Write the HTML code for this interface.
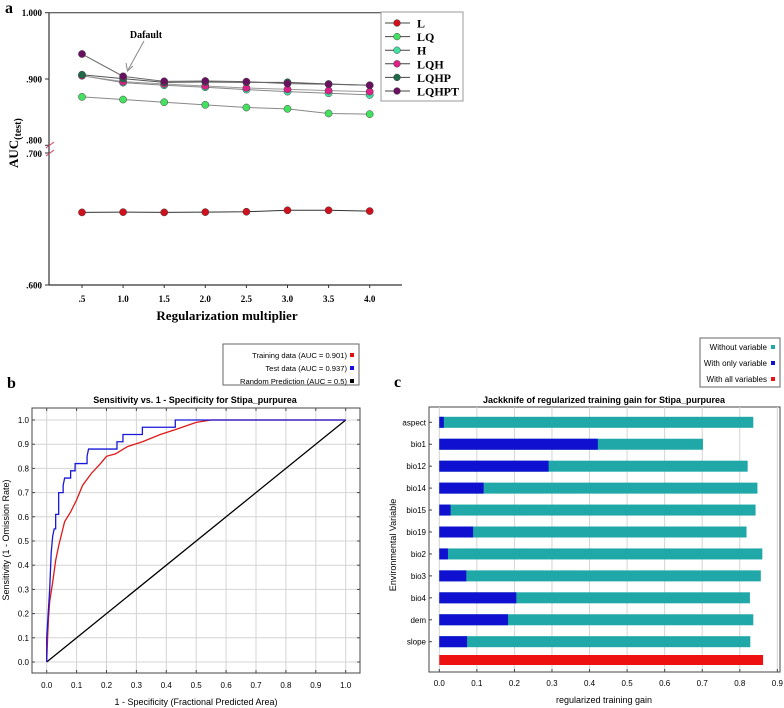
<!DOCTYPE html>
<html><head><meta charset="utf-8"><style>
body{margin:0;background:#fff}
svg{display:block}
.ser{font-family:"Liberation Serif",serif;font-weight:bold}
.san{font-family:"Liberation Sans",sans-serif}
</style></head><body>
<svg id="fig" width="784" height="708" viewBox="0 0 784 708" xmlns="http://www.w3.org/2000/svg">
<g id="pa"></g>
<g id="pb"></g>
<g id="pc"></g>
</svg>
<script>
// ---------- Panel a data ----------
const regMult = [0.5,1.0,1.5,2.0,2.5,3.0,3.5,4.0];
const aL     = [0.655,0.6552,0.655,0.6552,0.6555,0.6566,0.6566,0.656];
const aLQ    = [0.873,0.869,0.865,0.861,0.857,0.855,0.848,0.847];
const aH     = [0.905,0.8945,0.8905,0.8875,0.884,0.881,0.8785,0.876];
const aLQH   = [0.905,0.896,0.8925,0.8895,0.8865,0.8845,0.8825,0.881];
const aLQHP  = [0.9065,0.9005,0.895,0.8955,0.895,0.895,0.8925,0.8905];
const aLQHPT = [0.9377,0.904,0.8965,0.897,0.896,0.893,0.892,0.8905];
const aSeriesNames = ["L","LQ","H","LQH","LQHP","LQHPT"];
const aTickLabels = [".600",".700",".800",".900","1.000"];
// ---------- Panel b data ----------
const rocTestX = [0,0,0.005,0.01,0.015,0.02,0.025,0.03,0.03,0.04,0.04,0.055,0.055,0.06,0.08,0.08,0.095,0.095,0.135,0.135,0.14,0.235,0.235,0.255,0.255,0.32,0.32,0.43,0.43,1];
const rocTestY = [0,0.1,0.2,0.3,0.45,0.52,0.55,0.55,0.61,0.61,0.7,0.7,0.73,0.76,0.76,0.79,0.79,0.82,0.82,0.85,0.88,0.88,0.91,0.91,0.94,0.94,0.97,0.97,1,1];
const rocTrainX = [0,0.003,0.006,0.01,0.02,0.03,0.04,0.05,0.06,0.08,0.1,0.12,0.15,0.18,0.2,0.23,0.27,0.32,0.38,0.43,0.5,0.55,1];
const rocTrainY = [0,0.1,0.18,0.25,0.33,0.42,0.48,0.53,0.58,0.62,0.67,0.73,0.78,0.82,0.85,0.86,0.89,0.91,0.94,0.96,0.99,1,1];
const rocTicks = [0,0.1,0.2,0.3,0.4,0.5,0.6,0.7,0.8,0.9,1.0];
// ---------- Panel c data ----------
const jkVars = ["aspect","bio1","bio12","bio14","bio15","bio19","bio2","bio3","bio4","dem","slope"];
const jkWithout = [0.836,0.702,0.821,0.847,0.842,0.818,0.860,0.856,0.827,0.836,0.828];
const jkOnly = [0.012,0.422,0.291,0.118,0.030,0.090,0.023,0.072,0.205,0.183,0.074];
const jkAll = [0.862];
const jkTicks = [0,0.1,0.2,0.3,0.4,0.5,0.6,0.7,0.8,0.9];

const NS="http://www.w3.org/2000/svg";
function mk(parent,tag,attrs,text){const e=document.createElementNS(NS,tag);for(const k in attrs)e.setAttribute(k,attrs[k]);if(text!==undefined)e.textContent=text;parent.appendChild(e);return e;}

// ===== Panel a =====
(function(){
const g=document.getElementById('pa');
const ax=v=>82+(v-0.5)/0.5*41.1;
const ay=v=> v>=0.75 ? 79-(v-0.9)*663 : 285-(v-0.6)*1320;
let t=mk(g,'text',{x:5,y:13,class:'ser','font-size':16});
t.textContent='a';
let l=mk(g,'line',{x1:49,y1:12.7,x2:49,y2:285,stroke:'#333','stroke-width':1.2});

l=mk(g,'line',{x1:49,y1:285,x2:402,y2:285,stroke:'#333','stroke-width':1.2});

mk(g,'line',{x1:49,y1:12.7,x2:381,y2:12.7,stroke:'#333','stroke-width':1});
[0.6,0.7,0.8,0.9,1.0].forEach((v,i)=>{const y=ay(v);mk(g,'line',{x1:45,y1:y,x2:49,y2:y,stroke:'#333'});
 const tt=mk(g,'text',{x:42,y:y+(v===0.8?-2:(v===0.7?4:3.5)),'text-anchor':'end',class:'ser','font-size':9});
 tt.textContent=aTickLabels[i];});
mk(g,'line',{x1:46,y1:148,x2:54,y2:142,stroke:'#d04060','stroke-width':1});
mk(g,'line',{x1:46,y1:156,x2:54,y2:150,stroke:'#d04060','stroke-width':1});
regMult.forEach(v=>{const x=ax(v);mk(g,'line',{x1:x,y1:285,x2:x,y2:288,stroke:'#333'});
 const tt=mk(g,'text',{x:x,y:302,'text-anchor':'middle',class:'ser','font-size':9});
 tt.textContent=(v===0.5?'.5':v.toFixed(1));});
t=mk(g,'text',{x:227,y:320,'text-anchor':'middle',class:'ser','font-size':13});
t.textContent='Regularization multiplier';
t=mk(g,'text',{transform:'translate(18,168) rotate(-90)',class:'ser','font-size':13});

t.innerHTML='AUC<tspan font-size="10" dy="3">(test)</tspan>';
const series=[aL,aLQ,aH,aLQH,aLQHP,aLQHPT];
const colors=['#d0101c','#44e060','#40e0a0','#e0208a','#1e6a48','#6a1060'];
const lineCols=['#333','#888','#888','#999','#555','#666'];
[0,1,2,3,4,5].forEach(si=>{const d=series[si];
 const p=mk(g,'polyline',{points:d.map((v,i)=>ax(regMult[i])+','+ay(v)).join(' '),fill:'none',stroke:lineCols[si],'stroke-width':1});
 
 d.forEach((v,i)=>{const c=mk(g,'circle',{cx:ax(regMult[i]),cy:ay(v),r:3.6,fill:colors[si],stroke:'#444','stroke-width':0.5});
  });
});
t=mk(g,'text',{x:146,y:38,'text-anchor':'middle',class:'ser','font-size':10});
t.textContent='Dafault';
mk(g,'line',{x1:144,y1:41,x2:128,y2:70,stroke:'#888','stroke-width':1});
mk(g,'polyline',{points:'126,63 127.5,71 133,66',fill:'none',stroke:'#888','stroke-width':1});
const lg=mk(g,'g',{});
mk(lg,'rect',{x:381,y:12,width:82,height:89,fill:'#fff',stroke:'#999','stroke-width':1});
aSeriesNames.forEach((n,i)=>{const y=23+i*13.6;
 mk(lg,'line',{x1:385,y1:y,x2:410,y2:y,stroke:'#444','stroke-width':1});
 mk(lg,'circle',{cx:397,cy:y,r:3.4,fill:colors[i],stroke:'#444','stroke-width':0.5});
 const tt=mk(lg,'text',{x:417,y:y+4.5,class:'ser','font-size':12});
 tt.textContent=n;});
})();

// ===== Panel b =====
(function(){
const g=document.getElementById('pb');
const bx=v=>46.7+v*299;
const by=v=>662-v*242;
let t=mk(g,'text',{x:7,y:388,class:'ser','font-size':16});
t.textContent='b';
const lg=mk(g,'g',{});
mk(lg,'rect',{x:223,y:344,width:136,height:41,fill:'#fff',stroke:'#666'});
[['Training data (AUC = 0.901)','#e01010'],['Test data (AUC = 0.937)','#1010e0'],['Random Prediction (AUC = 0.5)','#000']].forEach((e,i)=>{
 const y=355+i*13;const tt=mk(lg,'text',{x:347,y:y+3,'text-anchor':'end',class:'san','font-size':7.6});
 tt.textContent=e[0];
 mk(lg,'rect',{x:350,y:y-2,width:4,height:4,fill:e[1]});});
t=mk(g,'text',{x:195,y:403,'text-anchor':'middle',class:'san','font-size':9,'font-weight':'bold'});
t.textContent='Sensitivity vs. 1 - Specificity for Stipa_purpurea';
mk(g,'rect',{x:32,y:408,width:328,height:265,fill:'#fff',stroke:'#444','stroke-width':1});
rocTicks.forEach(v=>{
 mk(g,'line',{x1:bx(v),y1:408,x2:bx(v),y2:673,stroke:'#d4d4d4'});
 mk(g,'line',{x1:32,y1:by(v),x2:360,y2:by(v),stroke:'#d4d4d4'});
 mk(g,'line',{x1:32,y1:by(v),x2:35,y2:by(v),stroke:'#444'});mk(g,'line',{x1:357,y1:by(v),x2:360,y2:by(v),stroke:'#444'});
 mk(g,'line',{x1:bx(v),y1:670,x2:bx(v),y2:673,stroke:'#444'});mk(g,'line',{x1:bx(v),y1:408,x2:bx(v),y2:411,stroke:'#444'});
 let a=mk(g,'text',{x:bx(v),y:688,'text-anchor':'middle',class:'san','font-size':8});
 a.textContent=v.toFixed(1);
 a=mk(g,'text',{x:29,y:by(v)+3,'text-anchor':'end',class:'san','font-size':8});
 a.textContent=v.toFixed(1);
});
let l=mk(g,'line',{x1:bx(0),y1:by(0),x2:bx(1),y2:by(1),stroke:'#000','stroke-width':1.3});

l=mk(g,'polyline',{points:rocTrainX.map((x,i)=>bx(x)+','+by(rocTrainY[i])).join(' '),fill:'none',stroke:'#e01818','stroke-width':1.3});

l=mk(g,'polyline',{points:rocTestX.map((x,i)=>bx(x)+','+by(rocTestY[i])).join(' '),fill:'none',stroke:'#1818d8','stroke-width':1.3});

t=mk(g,'text',{x:196,y:705,'text-anchor':'middle',class:'san','font-size':9});
t.textContent='1 - Specificity  (Fractional Predicted Area)';
t=mk(g,'text',{transform:'translate(9,540) rotate(-90)','text-anchor':'middle',class:'san','font-size':9});
t.textContent='Sensitivity  (1 - Omission Rate)';
})();

// ===== Panel c =====
(function(){
const g=document.getElementById('pc');
const cx=v=>439.3+v*375.6;
const cy=i=>422.3+i*21.94;
let t=mk(g,'text',{x:394,y:387,class:'ser','font-size':16});
t.textContent='c';
const lg=mk(g,'g',{});
mk(lg,'rect',{x:700,y:338,width:80,height:49,fill:'#fff',stroke:'#666'});
[['Without variable','#20a8a8'],['With only variable','#1010d0'],['With all variables','#ee1111']].forEach((e,i)=>{
 const y=347+i*16;const tt=mk(lg,'text',{x:767,y:y+3,'text-anchor':'end',class:'san','font-size':8});
 tt.textContent=e[0];
 mk(lg,'rect',{x:771,y:y-2,width:4,height:4,fill:e[1]});});
t=mk(g,'text',{x:604,y:403,'text-anchor':'middle',class:'san','font-size':9,'font-weight':'bold'});
t.textContent='Jackknife of regularized training gain for Stipa_purpurea';
mk(g,'rect',{x:429,y:407,width:351,height:265,fill:'#fff',stroke:'#444'});
jkTicks.forEach(v=>{mk(g,'line',{x1:cx(v),y1:407,x2:cx(v),y2:672,stroke:'#d4d4d4'});
 mk(g,'line',{x1:cx(v),y1:669,x2:cx(v),y2:672,stroke:'#444'});
 const a=mk(g,'text',{x:cx(v),y:686,'text-anchor':'middle',class:'san','font-size':8});
 a.textContent=v.toFixed(1);});
jkVars.forEach((n,i)=>{const y=cy(i);
 mk(g,'line',{x1:429,y1:y,x2:432,y2:y,stroke:'#444'});
 let r=mk(g,'rect',{x:cx(0),y:y-5.5,width:cx(jkWithout[i])-cx(0),height:11,fill:'#20a8a8'});
 
 r=mk(g,'rect',{x:cx(0),y:y-5.5,width:cx(jkOnly[i])-cx(0),height:11,fill:'#1010d0'});
 
 const a=mk(g,'text',{x:426,y:y+3,'text-anchor':'end',class:'san','font-size':8});
 a.textContent=n;});
let r=mk(g,'rect',{x:cx(0),y:655,width:cx(jkAll[0])-cx(0),height:10,fill:'#ee1111'});

t=mk(g,'text',{x:604,y:703,'text-anchor':'middle',class:'san','font-size':9});
t.textContent='regularized training gain';
t=mk(g,'text',{transform:'translate(396,545) rotate(-90)','text-anchor':'middle',class:'san','font-size':9});
t.textContent='Environmental Variable';
})();
</script>
</body></html>
